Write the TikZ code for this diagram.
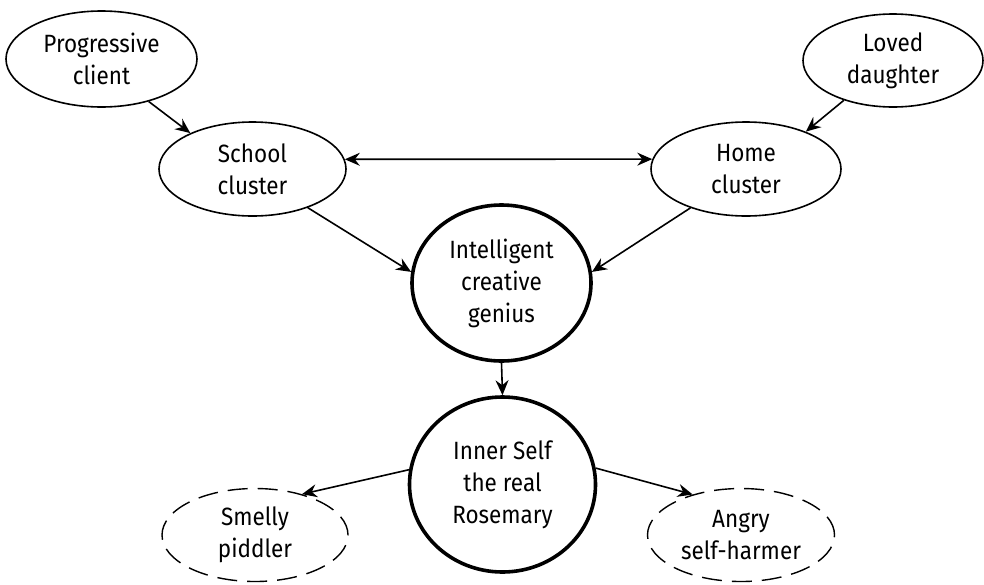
\documentclass[tikz,border=0pt]{standalone}
\usepackage{fontspec}
\setmainfont{Fira Sans}[FakeStretch=0.9]
\usetikzlibrary{shapes.geometric,arrows.meta}
\begin{document}
\begin{tikzpicture}[x=1pt,y=-1pt,
  bubble/.style={ellipse,draw,line width=1.6pt,inner sep=0pt,align=center,
    font=\fontsize{25}{32}\selectfont},
  core/.style={bubble,line width=3.6pt},
  shadow self/.style={bubble,line width=1.4pt,dash pattern=on 20pt off 10pt},
  link/.style={line width=1.6pt,-{Stealth[length=15pt,width=13pt,inset=5pt]}},
  both/.style={line width=1.6pt,{Stealth[length=15pt,width=13pt,inset=5pt]}-{Stealth[length=15pt,width=13pt,inset=5pt]}}]
\useasboundingbox (0,0) rectangle (984,584);

\node[bubble,minimum width=191pt,minimum height=96pt] (prog)  at (101.5,59) {Progressive\\client};
\node[bubble,minimum width=180pt,minimum height=93pt] (loved) at (893,60.5) {Loved\\daughter};
\node[bubble,minimum width=187pt,minimum height=94pt] (school) at (252.5,169) {School\\cluster};
\node[bubble,minimum width=190pt,minimum height=94pt] (home)  at (746,169) {Home\\cluster};
\node[core,minimum width=179pt,minimum height=156pt] (genius) at (501.5,283) {Intelligent\\creative\\genius};
\node[core,minimum width=186pt,minimum height=175pt] (inner) at (502.5,484.5) {Inner Self\\the real\\Rosemary};
\node[shadow self,minimum width=186pt,minimum height=93pt] (smelly) at (255,535) {Smelly\\piddler};
\node[shadow self,minimum width=187pt,minimum height=93pt] (angry)  at (741,535) {Angry\\self-harmer};

\draw[link] (prog.-42) -- (school.150.5);
\draw[link] (loved.219.7) -- (home.32);
\draw[both] (school.6) -- (home.174);
\draw[link] (school.-35.6) -- (genius.173);
\draw[link] (home.215) -- (genius.7);
\draw[link] (genius.south) -- (inner.north);
\draw[link] (inner.171) -- (smelly.41);
\draw[link] (inner.10) -- (angry.140.5);
\end{tikzpicture}
\end{document}
